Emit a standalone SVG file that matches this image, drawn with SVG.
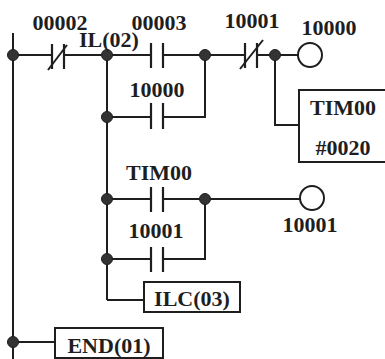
<svg xmlns="http://www.w3.org/2000/svg" width="385" height="359" viewBox="0 0 385 359">
  <style>
    .w { fill: none; stroke: #1e1e1e; stroke-width: 2; }
    .bar { fill: none; stroke: #1e1e1e; stroke-width: 2.2; }
    .dot { fill: #333; stroke: #1e1e1e; stroke-width: 1; }
    .box { fill: #fff; stroke: #1e1e1e; stroke-width: 2; }
    .coil { fill: #fff; stroke: #1e1e1e; stroke-width: 2; }
    text { font-family: "Liberation Serif", "Times New Roman", serif; font-weight: bold; font-size: 22px; fill: #1e1e1e; }
    .c { text-anchor: middle; }
  </style>
  <rect width="385" height="359" fill="#ffffff"/>

  <g id="connectors">
    <!-- left power rail -->
    <line class="w" x1="13" y1="33" x2="13" y2="359"/>
    <!-- rung 1: rail to IL junction through 00002 -->
    <line class="w" x1="13" y1="55" x2="52" y2="55"/>
    <line class="w" x1="64" y1="55" x2="107" y2="55"/>
    <!-- IL junction to output junction through 00003 -->
    <line class="w" x1="107" y1="55" x2="151" y2="55"/>
    <line class="w" x1="163" y1="55" x2="205" y2="55"/>
    <!-- through 10001 NC to coil 10000 -->
    <line class="w" x1="205" y1="55" x2="245" y2="55"/>
    <line class="w" x1="257" y1="55" x2="298" y2="55"/>
    <!-- branch to timer box -->
    <polyline class="w" points="275,55 275,125 299,125"/>
    <!-- interlock bus -->
    <line class="w" x1="107" y1="55" x2="107" y2="300"/>
    <line class="w" x1="107" y1="300" x2="144" y2="300"/>
    <!-- 10000 self-hold branch -->
    <line class="w" x1="107" y1="117" x2="151" y2="117"/>
    <polyline class="w" points="163,117 205,117 205,55"/>
    <!-- rung 2: TIM00 to coil 10001 -->
    <line class="w" x1="107" y1="199" x2="151" y2="199"/>
    <line class="w" x1="163" y1="199" x2="300" y2="199"/>
    <!-- 10001 self-hold branch -->
    <line class="w" x1="107" y1="259" x2="151" y2="259"/>
    <polyline class="w" points="163,259 205,259 205,199"/>
    <!-- END rung -->
    <line class="w" x1="13" y1="342" x2="55" y2="342"/>
  </g>

  <g id="c00002">
    <line class="bar" x1="52" y1="44" x2="52" y2="69"/>
    <line class="bar" x1="64" y1="44" x2="64" y2="69"/>
    <line class="w" x1="48" y1="70" x2="67" y2="45"/>
    <text x="60" y="30" class="c">00002</text>
  </g>

  <g id="il02">
    <circle class="dot" cx="13" cy="55" r="5.5"/>
    <circle class="dot" cx="107" cy="55" r="5.5"/>
    <text x="109" y="47" class="c">IL(02)</text>
  </g>

  <g id="c00003">
    <line class="bar" x1="151" y1="43" x2="151" y2="68"/>
    <line class="bar" x1="163" y1="43" x2="163" y2="68"/>
    <text x="159" y="30" class="c">00003</text>
  </g>

  <g id="j1">
    <circle class="dot" cx="205" cy="55" r="5.5"/>
  </g>

  <g id="c10001nc">
    <line class="bar" x1="245" y1="43" x2="245" y2="68"/>
    <line class="bar" x1="257" y1="43" x2="257" y2="68"/>
    <line class="w" x1="240" y1="69" x2="263" y2="40"/>
    <text x="252" y="28" class="c">10001</text>
  </g>

  <g id="j2">
    <circle class="dot" cx="275" cy="55" r="5.5"/>
  </g>

  <g id="coil10000">
    <circle class="coil" cx="310" cy="55" r="12"/>
    <text x="329" y="35" class="c">10000</text>
  </g>

  <g id="tim00">
    <rect class="box" x="299" y="90" width="90" height="72"/>
    <text x="343" y="115" class="c">TIM00</text>
    <text x="343" y="155" class="c">#0020</text>
  </g>

  <g id="c10000">
    <circle class="dot" cx="107" cy="117" r="5.5"/>
    <line class="bar" x1="151" y1="103" x2="151" y2="129"/>
    <line class="bar" x1="163" y1="103" x2="163" y2="129"/>
    <text x="157" y="97" class="c">10000</text>
  </g>

  <g id="cTIM00">
    <circle class="dot" cx="107" cy="199" r="5.5"/>
    <line class="bar" x1="151" y1="187" x2="151" y2="212"/>
    <line class="bar" x1="163" y1="187" x2="163" y2="212"/>
    <text x="159" y="180" class="c">TIM00</text>
  </g>

  <g id="j3">
    <circle class="dot" cx="205" cy="199" r="5.5"/>
  </g>

  <g id="coil10001">
    <circle class="coil" cx="312" cy="198" r="12"/>
    <text x="310" y="232" class="c">10001</text>
  </g>

  <g id="c10001">
    <circle class="dot" cx="107" cy="259" r="5.5"/>
    <line class="bar" x1="151" y1="247" x2="151" y2="272"/>
    <line class="bar" x1="163" y1="247" x2="163" y2="272"/>
    <text x="156" y="238" class="c">10001</text>
  </g>

  <g id="ilc03">
    <rect class="box" x="144" y="282" width="96" height="30"/>
    <text x="192" y="306" class="c">ILC(03)</text>
  </g>

  <g id="end01">
    <circle class="dot" cx="13" cy="342" r="5.5"/>
    <rect class="box" x="55" y="328" width="108" height="30"/>
    <text x="109" y="353" class="c">END(01)</text>
  </g>
</svg>
